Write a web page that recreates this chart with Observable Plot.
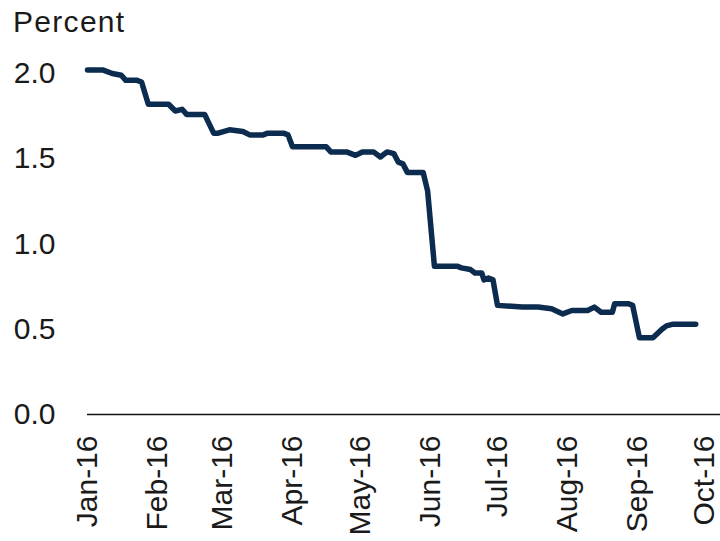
<!DOCTYPE html>
<html>
<head>
<meta charset="utf-8">
<script src="https://cdn.jsdelivr.net/npm/d3@7"></script>
<script src="https://cdn.jsdelivr.net/npm/@observablehq/plot@0.6"></script>
<style>
  html, body { margin: 0; padding: 0; background: #fff; }
  #title { font-family: "Liberation Sans", Arial, sans-serif; font-size: 30px; letter-spacing: 1.3px;
           color: #1a1a1a; height: 44px; line-height: 43px; padding-left: 13px; }
</style>
</head>
<body>
<div id="title">Percent</div>
<div id="chart"></div>
<script>
const dates = [
  "2016-01-01","2016-01-08","2016-01-12","2016-01-16","2016-01-18","2016-01-23","2016-01-25","2016-01-28",
  "2016-02-06","2016-02-09","2016-02-12","2016-02-14","2016-02-22","2016-02-26","2016-02-28",
  "2016-03-04","2016-03-10","2016-03-13","2016-03-19","2016-03-21","2016-03-28","2016-03-30",
  "2016-04-01","2016-04-16","2016-04-18","2016-04-25","2016-04-29",
  "2016-05-02","2016-05-07","2016-05-10","2016-05-13","2016-05-16","2016-05-18","2016-05-20","2016-05-22","2016-05-29","2016-05-31",
  "2016-06-03","2016-06-13","2016-06-15","2016-06-19","2016-06-21","2016-06-24","2016-06-25","2016-06-27","2016-06-29",
  "2016-07-01","2016-07-12","2016-07-19","2016-07-25","2016-07-30",
  "2016-08-03","2016-08-10","2016-08-13","2016-08-16","2016-08-21","2016-08-22","2016-08-28","2016-08-30",
  "2016-09-02","2016-09-08","2016-09-12","2016-09-14","2016-09-17","2016-09-27"
];
const values = [
  2.02, 2.02, 2.00, 1.99, 1.96, 1.96, 1.95, 1.82,
  1.82, 1.78, 1.79, 1.76, 1.76, 1.65, 1.65,
  1.67, 1.66, 1.64, 1.64, 1.65, 1.65, 1.64,
  1.57, 1.57, 1.54, 1.54, 1.52,
  1.54, 1.54, 1.51, 1.54, 1.53, 1.48, 1.47, 1.42, 1.42, 1.31,
  0.87, 0.87, 0.86, 0.85, 0.83, 0.83, 0.79, 0.80, 0.79,
  0.64, 0.63, 0.63, 0.62, 0.59,
  0.61, 0.61, 0.63, 0.60, 0.60, 0.65, 0.65, 0.64,
  0.45, 0.45, 0.50, 0.52, 0.53, 0.53
];
const monthTicks = ["2016-01-01","2016-02-01","2016-03-01","2016-04-01","2016-05-01",
                    "2016-06-01","2016-07-01","2016-08-01","2016-09-01","2016-10-01"];
const monthLabels = ["Jan-16","Feb-16","Mar-16","Apr-16","May-16","Jun-16","Jul-16","Aug-16","Sep-16","Oct-16"];
const yTicks = [0, 0.5, 1.0, 1.5, 2.0];

const data = dates.map((d, i) => ({date: new Date(d), value: values[i]}));
const tickDates = monthTicks.map(d => new Date(d));

const chart = Plot.plot({
  width: 720,
  height: 497,
  marginLeft: 87,
  marginRight: 0,
  marginTop: 29,
  marginBottom: 127,
  style: {fontFamily: "'Liberation Sans', Arial, sans-serif", fontSize: "30px", color: "#1a1a1a", background: "white", overflow: "visible"},
  x: {type: "utc", domain: [new Date("2016-01-01"), new Date("2016-10-08")]},
  y: {domain: [0, 2]},
  marks: [
    Plot.axisY({ticks: yTicks, tickFormat: d => d.toFixed(1), tickSize: 0, tickPadding: 32, label: null, fontSize: 30}),
    Plot.axisX({ticks: tickDates, tickFormat: d => monthLabels[tickDates.findIndex(t => +t === +d)],
                tickRotate: -90, tickSize: 0, tickPadding: 21, label: null, fontSize: 30}),
    Plot.ruleY([0], {stroke: "#111", strokeWidth: 1.5}),
    Plot.line(data, {x: "date", y: "value", stroke: "#0b2b4f", strokeWidth: 5.5, strokeLinejoin: "round", strokeLinecap: "round"})
  ]
});
document.getElementById("chart").appendChild(chart);
</script>
</body>
</html>
